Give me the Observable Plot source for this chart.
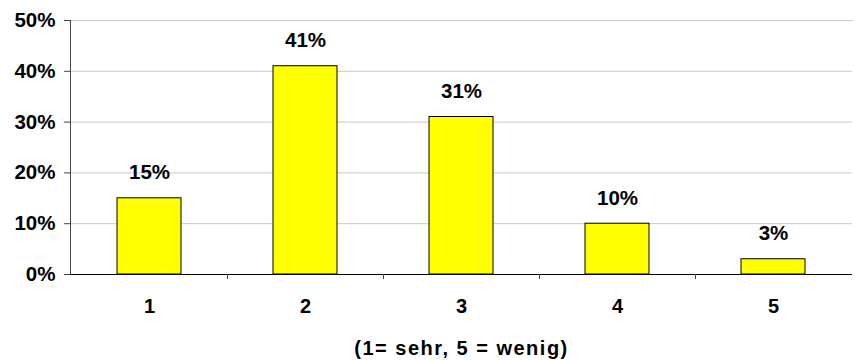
<!DOCTYPE html>
<html>
<head>
<meta charset="utf-8">
<script src="https://cdn.jsdelivr.net/npm/d3@7"></script>
<script src="https://cdn.jsdelivr.net/npm/@observablehq/plot@0.6"></script>
<style>
  html, body { margin: 0; padding: 0; background: #fff; }
</style>
</head>
<body>
<div id="chart"></div>
<script>
const categories = ["1", "2", "3", "4", "5"];
const values = [15, 41, 31, 10, 3];
const yTicks = [0, 10, 20, 30, 40, 50];
const xTitle = "(1= sehr, 5 = wenig)";

const data = categories.map((c, i) => ({cat: c, value: values[i]}));

const plot = Plot.plot({
  width: 855,
  height: 360,
  marginLeft: 70,
  marginRight: 3,
  marginTop: 20,
  marginBottom: 86,
  style: {
    fontFamily: "'Liberation Sans', Arial, sans-serif",
    fontSize: "20px",
    fontWeight: "bold",
    color: "#000",
    background: "#fff"
  },
  x: {domain: categories, paddingInner: 0.59, paddingOuter: 0.295},
  y: {domain: [0, 50]},
  marks: [
    Plot.gridY(yTicks.filter(d => d > 0), {stroke: "#c8c8c8", strokeOpacity: 1}),
    Plot.barY(data, {x: "cat", y: "value", fill: "#ffff00", stroke: "#000", strokeWidth: 1}),
    Plot.text(data, {x: "cat", y: "value", text: d => d.value + "%", dy: -19, lineAnchor: "bottom", fill: "#000", fontSize: 20.5}),
    Plot.axisY({ticks: yTicks, tickFormat: d => d + "%", tickSize: 6, tickPadding: 9, label: null, stroke: "#444", fontSize: 20.5}),
    Plot.axisX({tickSize: 0, tickPadding: 24, label: xTitle, labelAnchor: "center", labelArrow: "none", labelOffset: 80}),
    Plot.ruleY([0], {stroke: "#000"})
  ]
});

document.getElementById("chart").appendChild(plot);

// y-axis line and category boundary tick marks, from the plot's own scales
const xs = plot.scale("x");
const ys = plot.scale("y");
const svg = d3.select(plot);
const g = svg.append("g").attr("stroke", "#444").attr("stroke-width", 1);
const left = xs.range[0];
g.append("line")
  .attr("x1", left + 0.5).attr("x2", left + 0.5)
  .attr("y1", ys.apply(50)).attr("y2", ys.apply(0));
const step = xs.step;
const bw = xs.bandwidth;
categories.slice(0, -1).forEach(c => {
  const bx = Math.round(xs.apply(c) + bw + (step - bw) / 2) + 0.5;
  g.append("line")
    .attr("x1", bx).attr("x2", bx)
    .attr("y1", ys.apply(0)).attr("y2", ys.apply(0) + 5);
});
// title letter spacing
svg.selectAll("text").filter(function() { return this.textContent === xTitle; })
  .style("letter-spacing", "1.5px");
</script>
</body>
</html>
